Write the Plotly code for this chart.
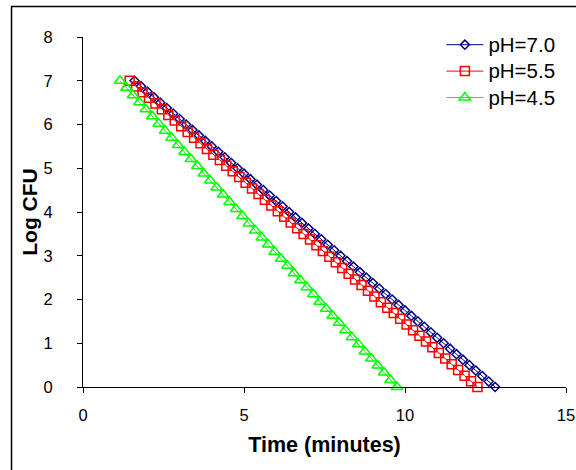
import plotly.graph_objects as go

# --- data ---
t_ph70 = [1.6, 1.8, 2.0, 2.2, 2.4, 2.6, 2.8, 3.0, 3.2, 3.4, 3.6, 3.8, 4.0, 4.2, 4.4, 4.6, 4.8,
          5.0, 5.2, 5.4, 5.6, 5.8, 6.0, 6.2, 6.4, 6.6, 6.8, 7.0, 7.2, 7.4, 7.6, 7.8, 8.0, 8.2,
          8.4, 8.6, 8.8, 9.0, 9.2, 9.4, 9.6, 9.8, 10.0, 10.2, 10.4, 10.6, 10.8, 11.0, 11.2,
          11.4, 11.6, 11.8, 12.0, 12.2, 12.4, 12.6, 12.8]
y_ph70 = [7.0, 6.875, 6.75, 6.625, 6.5, 6.375, 6.25, 6.125, 6.0, 5.875, 5.75, 5.625, 5.5,
          5.375, 5.25, 5.125, 5.0, 4.875, 4.75, 4.625, 4.5, 4.375, 4.25, 4.125, 4.0, 3.875,
          3.75, 3.625, 3.5, 3.375, 3.25, 3.125, 3.0, 2.875, 2.75, 2.625, 2.5, 2.375, 2.25,
          2.125, 2.0, 1.875, 1.75, 1.625, 1.5, 1.375, 1.25, 1.125, 1.0, 0.875, 0.75, 0.625,
          0.5, 0.375, 0.25, 0.125, 0.0]

t_ph55 = [1.45, 1.65, 1.85, 2.05, 2.25, 2.45, 2.65, 2.85, 3.05, 3.25, 3.45, 3.65, 3.85, 4.05,
          4.25, 4.45, 4.65, 4.85, 5.05, 5.25, 5.45, 5.65, 5.85, 6.05, 6.25, 6.45, 6.65, 6.85,
          7.05, 7.25, 7.45, 7.65, 7.85, 8.05, 8.25, 8.45, 8.65, 8.85, 9.05, 9.25, 9.45, 9.65,
          9.85, 10.05, 10.25, 10.45, 10.65, 10.85, 11.05, 11.25, 11.45, 11.65, 11.85, 12.05,
          12.25]
y_ph55 = [7.00, 6.87, 6.74, 6.61, 6.48, 6.35, 6.22, 6.09, 5.96, 5.83, 5.70, 5.57, 5.44, 5.31,
          5.19, 5.06, 4.93, 4.80, 4.67, 4.54, 4.41, 4.28, 4.15, 4.02, 3.89, 3.76, 3.63, 3.50,
          3.37, 3.24, 3.11, 2.98, 2.85, 2.72, 2.59, 2.46, 2.33, 2.20, 2.07, 1.94, 1.81, 1.69,
          1.56, 1.43, 1.30, 1.17, 1.04, 0.91, 0.78, 0.65, 0.52, 0.39, 0.26, 0.13, 0.00]

t_ph45 = [1.15, 1.35, 1.55, 1.75, 1.95, 2.15, 2.35, 2.55, 2.75, 2.95, 3.15, 3.35, 3.55, 3.75,
          3.95, 4.15, 4.35, 4.55, 4.75, 4.95, 5.15, 5.35, 5.55, 5.75, 5.95, 6.15, 6.35, 6.55,
          6.75, 6.95, 7.15, 7.35, 7.55, 7.75, 7.95, 8.15, 8.35, 8.55, 8.75, 8.95, 9.15, 9.35,
          9.55, 9.75]
y_ph45 = [7.00, 6.84, 6.67, 6.51, 6.35, 6.19, 6.02, 5.86, 5.70, 5.53, 5.37, 5.21, 5.05, 4.88,
          4.72, 4.56, 4.40, 4.23, 4.07, 3.91, 3.74, 3.58, 3.42, 3.26, 3.09, 2.93, 2.77, 2.60,
          2.44, 2.28, 2.12, 1.95, 1.79, 1.63, 1.47, 1.30, 1.14, 0.98, 0.81, 0.65, 0.49, 0.33,
          0.16, 0.00]

series_names = ["pH=7.0", "pH=5.5", "pH=4.5"]
x_ticks = [0, 5, 10, 15]
y_ticks = [0, 1, 2, 3, 4, 5, 6, 7, 8]

FONT = "Liberation Sans, Arial, sans-serif"


def legend_label(name):
    return "<span style='font-size:20.5px'>" + name + "</span>"


fig = go.Figure()
fig.add_trace(go.Scatter(
    x=t_ph70, y=y_ph70, name=legend_label(series_names[0]), mode="lines+markers",
    line=dict(color="#000080", width=1),
    marker=dict(symbol="diamond-open", size=7, color="#000080", line=dict(width=1.5)),
    cliponaxis=False))
fig.add_trace(go.Scatter(
    x=t_ph55, y=y_ph55, name=legend_label(series_names[1]), mode="lines+markers",
    line=dict(color="#FF0000", width=1),
    marker=dict(symbol="square-open", size=9, color="#FF0000", line=dict(width=1.5)),
    cliponaxis=False))
fig.add_trace(go.Scatter(
    x=t_ph45, y=y_ph45, name=legend_label(series_names[2]), mode="lines+markers",
    line=dict(color="#00FF00", width=1),
    marker=dict(symbol="triangle-up-open", size=10, color="#00FF00", line=dict(width=1.5)),
    cliponaxis=False))

fig.update_layout(
    width=576, height=470,
    margin=dict(l=83, r=10, t=37, b=83, autoexpand=False),
    paper_bgcolor="white", plot_bgcolor="white",
    font=dict(family=FONT, color="black", size=16),
    showlegend=True,
    legend=dict(x=0.742, y=1.03, xanchor="left", yanchor="top",
                font=dict(size=18, family=FONT), itemwidth=37,
                bgcolor="rgba(0,0,0,0)", tracegroupgap=0),
    xaxis=dict(range=[0, 15], tickvals=x_ticks, ticks="outside", ticklen=5,
               tickcolor="black", showline=True, linecolor="black", linewidth=1,
               showgrid=False, zeroline=False, tickfont=dict(size=16.5),
               ticklabelstandoff=8, ticklabeloverflow="allow",
               title=dict(text="<b>Time (minutes)</b>", font=dict(size=21.5), standoff=14)),
    yaxis=dict(range=[0, 8], tickvals=y_ticks, ticks="outside", ticklen=5,
               tickcolor="black", showline=True, linecolor="black", linewidth=1,
               showgrid=False, zeroline=False, tickfont=dict(size=16.5),
               ticklabelstandoff=21,
               title=dict(text="<b>Log CFU</b>", font=dict(size=21), standoff=0)),
    shapes=[dict(type="rect", xref="paper", yref="paper",
                 x0=-0.148, x1=1.2, y0=-0.3, y1=1.087,
                 line=dict(color="black", width=1.5), fillcolor="rgba(0,0,0,0)",
                 layer="below")],
)

fig.write_html("out.html")
